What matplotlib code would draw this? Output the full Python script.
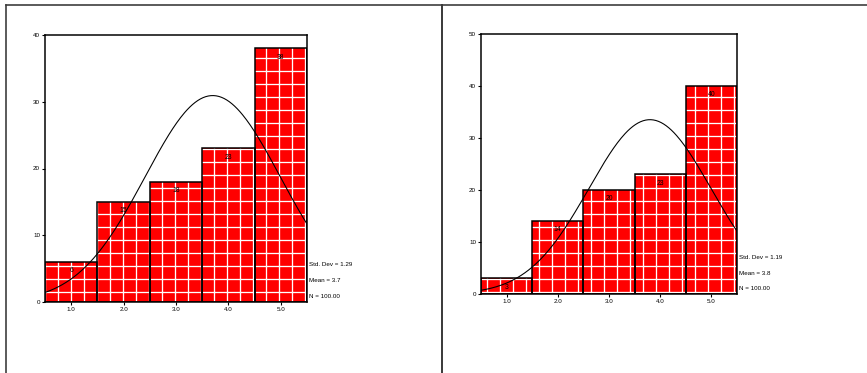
import numpy as np
import matplotlib
matplotlib.use("Agg")
import matplotlib.pyplot as plt

# data
categories = [1.0, 2.0, 3.0, 4.0, 5.0]
tick_labels = ["1.0", "2.0", "3.0", "4.0", "5.0"]
counts_left = [6, 15, 18, 23, 38]
counts_right = [3, 14, 20, 23, 40]
stats_left = {"sd": 1.29, "mean": 3.7, "n": 100.00}
stats_right = {"sd": 1.19, "mean": 3.8, "n": 100.00}
yticks_left = [0, 10, 20, 30, 40]
yticks_right = [0, 10, 20, 30, 40, 50]

DPI = 78
plt.rcParams["font.family"] = ["Liberation Sans", "DejaVu Sans"]
plt.rcParams["hatch.linewidth"] = 1.2

fig = plt.figure(figsize=(867 / DPI, 373 / DPI), dpi=DPI)

# table-like frame around the two cells
frame_col = "#3a3a3a"
fig.add_artist(plt.Line2D([6 / 867, 1], [1 - 5 / 373] * 2, color=frame_col, lw=1.5, transform=fig.transFigure))
fig.add_artist(plt.Line2D([6 / 867] * 2, [0, 1 - 5 / 373], color=frame_col, lw=1.5, transform=fig.transFigure))
fig.add_artist(plt.Line2D([442 / 867] * 2, [0, 1 - 5 / 373], color=frame_col, lw=1.8, transform=fig.transFigure))


def histo(rect, counts, st, yticks):
    ax = fig.add_axes(rect)
    # red bars with white grid hatch, then black outlines on top
    ax.bar(categories, counts, width=1.0, color="#ff0000", edgecolor="white", hatch="+", lw=0, zorder=2)
    ax.bar(categories, counts, width=1.0, fill=False, edgecolor="black", lw=1.4, zorder=3)

    for x, c in zip(categories, counts):
        ax.annotate(str(c), (x, c), xytext=(0, -8), textcoords="offset points",
                    ha="center", va="center", fontsize=6.2, color="black", zorder=4)

    # normal curve from the stated mean / sd, scaled to N * bin width
    xs = np.linspace(0.5, 5.5, 200)
    ys = st["n"] / (st["sd"] * np.sqrt(2 * np.pi)) * np.exp(-0.5 * ((xs - st["mean"]) / st["sd"]) ** 2)
    ax.plot(xs, ys, color="black", lw=1.0, zorder=5)

    ax.set_xlim(0.5, 5.5)
    ax.set_ylim(0, yticks[-1])
    ax.set_xticks(categories)
    ax.set_xticklabels(tick_labels)
    ax.set_yticks(yticks)
    ax.tick_params(labelsize=5.8, length=2.5, width=1, direction="out", pad=2)
    for s in ax.spines.values():
        s.set_linewidth(1.4)
        s.set_zorder(6)

    info = [f"Std. Dev = {st['sd']:.2f}", f"Mean = {st['mean']:.1f}", f"N = {st['n']:.2f}"]
    for txt, yf in zip(info, [0.139, 0.080, 0.022]):
        ax.text(1.008, yf, txt, transform=ax.transAxes, fontsize=5.8, va="center", ha="left")
    return ax


histo([45 / 867, 1 - 302 / 373, 262 / 867, 267 / 373], counts_left, stats_left, yticks_left)
histo([481 / 867, 1 - 294 / 373, 256 / 867, 260 / 373], counts_right, stats_right, yticks_right)

fig.savefig("out.png", dpi=DPI)
